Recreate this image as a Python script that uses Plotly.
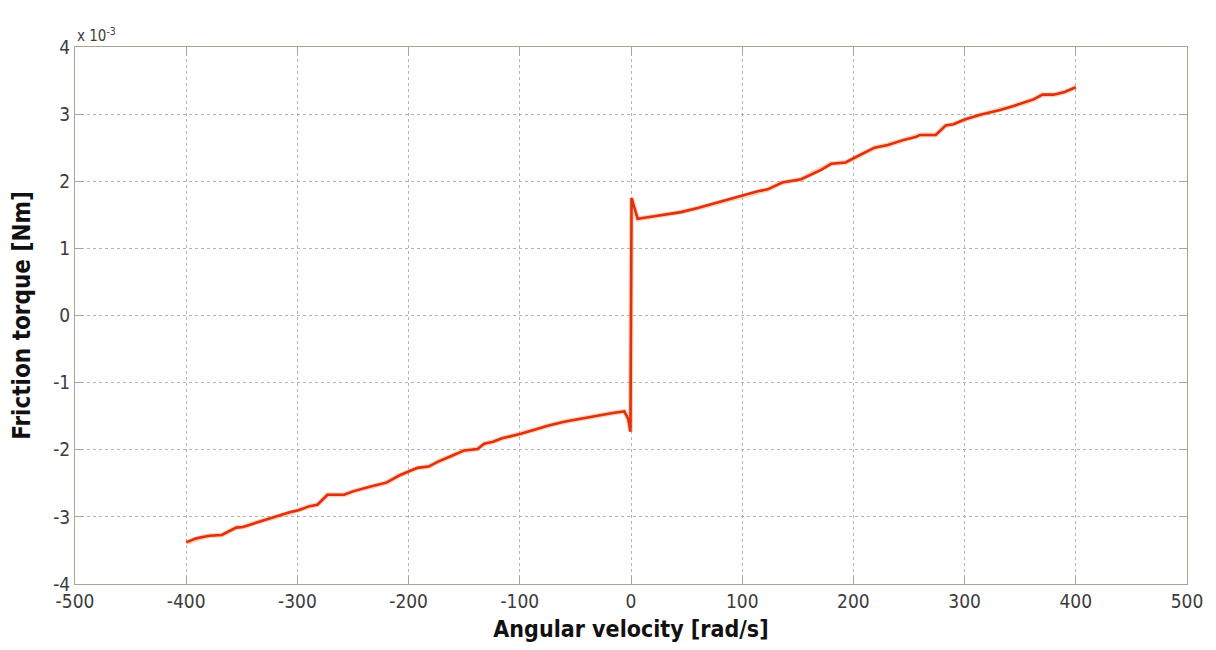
import plotly.graph_objects as go

# Angular velocity [rad/s]
velocity = [-400, -391, -385, -379, -368, -355, -349, -334, -319, -307, -299, -289, -282,
            -273, -258, -250, -235, -220, -208, -199, -192, -182, -174, -161, -150, -138,
            -132, -124, -116, -99, -89, -74, -59, -44, -29, -15, -6, -2.5, -0.5,
            0.5, 6, 21, 36, 45, 60, 75, 90, 100, 114, 123, 129, 136, 153, 162, 171, 180,
            193, 201, 219, 231, 246, 256, 260, 274, 283, 290, 300, 314, 332, 344, 354,
            362, 370, 380, 390, 400]
# Friction torque [x 10^-3 Nm]
torque = [-3.38, -3.32, -3.30, -3.28, -3.27, -3.16, -3.15, -3.07, -3.00, -2.93, -2.90, -2.84, -2.82,
          -2.67, -2.67, -2.62, -2.55, -2.49, -2.38, -2.32, -2.27, -2.25, -2.18, -2.09, -2.01, -1.99,
          -1.91, -1.88, -1.83, -1.76, -1.71, -1.64, -1.58, -1.53, -1.49, -1.45, -1.43, -1.54, -1.73,
          1.75, 1.44, 1.48, 1.52, 1.54, 1.60, 1.67, 1.74, 1.78, 1.85, 1.88, 1.93, 1.98, 2.03, 2.10, 2.17, 2.26,
          2.28, 2.35, 2.50, 2.54, 2.62, 2.66, 2.69, 2.69, 2.83, 2.85, 2.92, 2.99, 3.06, 3.12, 3.17,
          3.22, 3.29, 3.29, 3.33, 3.40]

x_ticks = [-500, -400, -300, -200, -100, 0, 100, 200, 300, 400, 500]
y_ticks = [-4, -3, -2, -1, 0, 1, 2, 3, 4]

fig = go.Figure()
fig.add_trace(go.Scatter(x=velocity, y=torque, mode="lines",
                         line=dict(color="rgba(240,120,60,0.35)", width=5), hoverinfo="skip"))
fig.add_trace(go.Scatter(x=velocity, y=torque, mode="lines",
                         line=dict(color="#e0300c", width=2.6)))

tickfont = dict(family="Liberation Sans Narrow, DejaVu Sans Condensed, sans-serif", size=19, color="#3c3c3c")
axis_common = dict(showline=True, linecolor="#a8a590", linewidth=1, mirror="ticks",
                   ticks="inside", ticklen=8, tickcolor="#a8a590",
                   showgrid=True, gridcolor="#b4b4ac", griddash="3px,3px", gridwidth=1,
                   zeroline=False, tickfont=tickfont)

fig.update_xaxes(range=[-500, 500], tickvals=x_ticks, ticktext=[str(v) for v in x_ticks],
                 title=dict(text="Angular velocity [rad/s]", standoff=10,
                            font=dict(family="DejaVu Sans Condensed, sans-serif", size=23,
                                      color="#111111", weight="bold")),
                 **axis_common)
fig.update_yaxes(range=[-4, 4], tickvals=y_ticks, ticktext=[str(v) for v in y_ticks],
                 title=dict(text="Friction torque [Nm]", standoff=16,
                            font=dict(family="DejaVu Sans Condensed, sans-serif", size=24,
                                      color="#111111", weight="bold")),
                 **axis_common)

fig.add_annotation(text="x 10<sup>-3</sup>", xref="paper", yref="paper", x=0.0, y=1.0,
                   xanchor="left", yanchor="bottom", showarrow=False,
                   font=dict(family="Liberation Sans Narrow, DejaVu Sans Condensed, sans-serif",
                             size=15, color="#3c3c3c"))

fig.update_layout(width=1208, height=642, showlegend=False,
                  paper_bgcolor="white", plot_bgcolor="white",
                  margin=dict(l=65, r=29, t=39, b=64))

fig.write_html("out.html")
